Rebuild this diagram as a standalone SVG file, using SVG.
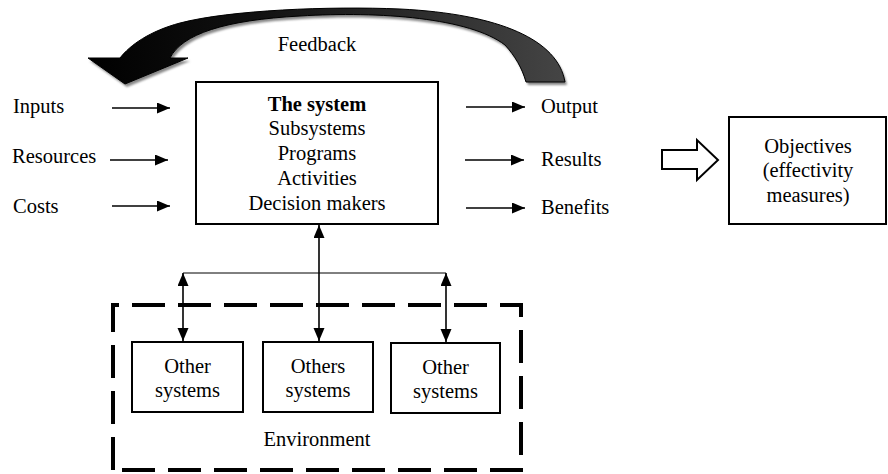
<svg xmlns="http://www.w3.org/2000/svg" width="888" height="474" viewBox="0 0 888 474">
<style>
text{font-family:"Liberation Serif","Times New Roman",serif;font-size:20.5px;fill:#000}
.c{text-anchor:middle}
.b{font-weight:bold}
.box{fill:#fff;stroke:#000;stroke-width:2}
.arr{stroke:#000;stroke-width:1.6;fill:none}
.thin{stroke:#000;stroke-width:1;fill:none}
</style>
<defs>
<marker id="ah" markerUnits="userSpaceOnUse" markerWidth="14" markerHeight="12" refX="13" refY="5.5" orient="auto-start-reverse">
<path d="M0,0 L13,5.5 L0,11 z" fill="#000"/>
</marker>
<linearGradient id="fb" x1="88" y1="0" x2="566" y2="0" gradientUnits="userSpaceOnUse">
<stop offset="0" stop-color="#000"/>
<stop offset="0.35" stop-color="#111"/>
<stop offset="1" stop-color="#454545"/>
</linearGradient>
<filter id="blur" x="-5%" y="-10%" width="110%" height="130%">
<feGaussianBlur stdDeviation="1.2"/>
</filter>
</defs>

<g id="feedback">
<path d="M565,82 C558,40 500,14 400,9 C330,6 230,10 180,23 C150,31 130,45 120,58 L88,58 L125,84 L188,58 L170,58 C182,34 225,20 300,16 C380,11 470,18 505,45 C515,56 522,68 526,82 Z" fill="#888" transform="translate(2,3)" filter="url(#blur)"/>
<path d="M565,82 C558,40 500,14 400,9 C330,6 230,10 180,23 C150,31 130,45 120,58 L88,58 L125,84 L188,58 L170,58 C182,34 225,20 300,16 C380,11 470,18 505,45 C515,56 522,68 526,82 Z" fill="url(#fb)" stroke="#000" stroke-width="1"/>
<text class="c" x="317" y="51">Feedback</text>
</g>

<g id="system">
<rect class="box" x="196" y="82" width="242" height="142"/>
<text class="c b" x="317" y="111">The system</text>
<text class="c" x="317" y="135">Subsystems</text>
<text class="c" x="317" y="160">Programs</text>
<text class="c" x="317" y="185">Activities</text>
<text class="c" x="317" y="210">Decision makers</text>
</g>

<g id="inputs"><text x="13" y="113">Inputs</text></g>
<g id="resources"><text x="12" y="163">Resources</text></g>
<g id="costs"><text x="13" y="213">Costs</text></g>
<g id="output"><text x="541" y="113">Output</text></g>
<g id="results"><text x="541" y="166">Results</text></g>
<g id="benefits"><text x="541" y="214">Benefits</text></g>

<g id="objectives">
<rect class="box" x="729" y="117" width="157" height="107"/>
<text class="c" x="808" y="153">Objectives</text>
<text class="c" x="808" y="177">(effectivity</text>
<text class="c" x="808" y="202">measures)</text>
</g>

<g id="environment">
<path d="M113,470 L113,305 L521,305 L521,470 Z" fill="none" stroke="#000" stroke-width="4" stroke-dasharray="33,13"/>
<text class="c" x="317" y="446">Environment</text>
</g>

<g id="other1">
<rect class="box" x="132" y="342" width="111" height="70"/>
<text class="c" x="187.5" y="373">Other</text>
<text class="c" x="187.5" y="397">systems</text>
</g>
<g id="other2">
<rect class="box" x="263" y="342" width="110" height="70"/>
<text class="c" x="318" y="373">Others</text>
<text class="c" x="318" y="397">systems</text>
</g>
<g id="other3">
<rect class="box" x="391" y="343" width="109" height="70"/>
<text class="c" x="445.5" y="374">Other</text>
<text class="c" x="445.5" y="398">systems</text>
</g>

<g id="connectors">
<line class="arr" x1="112" y1="108" x2="170" y2="108" marker-end="url(#ah)"/>
<line class="arr" x1="110" y1="160" x2="168" y2="160" marker-end="url(#ah)"/>
<line class="arr" x1="112" y1="206" x2="170" y2="206" marker-end="url(#ah)"/>
<line class="arr" x1="466" y1="107" x2="525" y2="107" marker-end="url(#ah)"/>
<line class="arr" x1="465" y1="160" x2="524" y2="160" marker-end="url(#ah)"/>
<line class="arr" x1="466" y1="208" x2="525" y2="208" marker-end="url(#ah)"/>
<polygon points="662,150 697,150 697,140 718,160 697,180 697,169 662,169" fill="#fff" stroke="#000" stroke-width="2"/>
<line class="arr" x1="319" y1="225" x2="319" y2="341" marker-start="url(#ah)" marker-end="url(#ah)"/>
<line class="thin" x1="183" y1="273" x2="446" y2="273"/>
<line class="arr" x1="183" y1="273" x2="183" y2="341" marker-start="url(#ah)" marker-end="url(#ah)"/>
<line class="arr" x1="446" y1="273" x2="446" y2="342" marker-start="url(#ah)" marker-end="url(#ah)"/>
</g>
</svg>
